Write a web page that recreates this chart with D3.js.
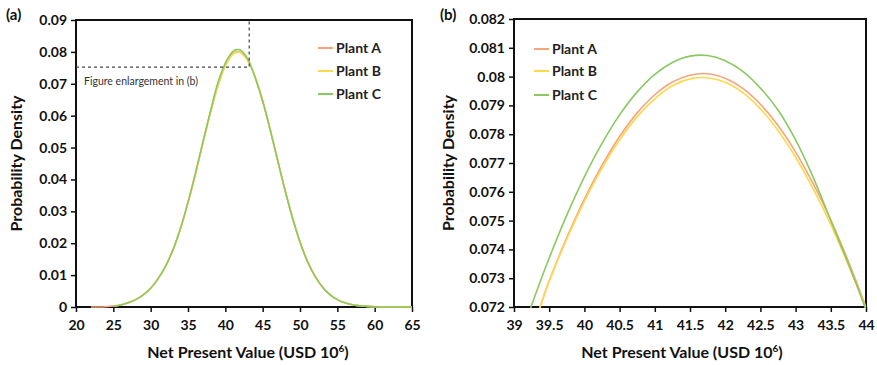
<!DOCTYPE html>
<html><head><meta charset="utf-8">
<script src="https://cdn.jsdelivr.net/npm/d3@7/dist/d3.min.js"></script>
<style>
body{margin:0;background:#fff;}
text{font-family:Lato,"Open Sans",sans-serif;}
</style></head>
<body><svg id="c" width="877" height="365"></svg>
<script>
// ---------- DATA ----------
const plants = ["Plant A", "Plant B", "Plant C"];
const colors = ["#F6A47C", "#FFD84E", "#8CC862"];

// Panel (a): NPV grid (USD 10^6), density values (null = not drawn)
const npvA = [20,21,22,23,24,25,26,27,28,29,30,31,32,33,34,35,36,37,38,39,40,41,41.5,42,43,44,45,46,47,48,49,50,51,52,53,54,55,56,57,58,59,60,61,62,63,64,65];
const densA_plantA = [null,null,0,0,0.0001,0.0003,0.0006,0.0013,0.0023,0.0038,0.0059,0.0089,0.0128,0.0180,0.0247,0.0328,0.0418,0.0515,0.0609,0.0693,0.0758,0.0794,0.0800,0.0799,0.0774,0.0720,0.0646,0.0557,0.0461,0.0366,0.0279,0.0204,0.0143,0.0097,0.0063,0.0039,0.0023,0.0013,0.0007,0.0004,0.0002,0.0001,0,0,0,0,0];
const densA_plantB = [null,null,null,null,null,0.0003,0.0006,0.0013,0.0023,0.0038,0.0059,0.0089,0.0128,0.0180,0.0247,0.0328,0.0418,0.0515,0.0609,0.0693,0.0757,0.0792,0.0799,0.0798,0.0772,0.0720,0.0645,0.0556,0.0460,0.0366,0.0279,0.0204,0.0143,0.0097,0.0063,0.0039,0.0023,0.0013,0.0007,0.0004,0.0002,0.0001,0,0,0,0,0];
const densA_plantC = [null,null,null,null,null,0.0003,0.0006,0.0013,0.0023,0.0038,0.0059,0.0089,0.0128,0.0180,0.0247,0.0328,0.0420,0.0518,0.0614,0.0703,0.0765,0.0801,0.0807,0.0806,0.0778,0.0719,0.0646,0.0557,0.0461,0.0366,0.0279,0.0204,0.0143,0.0097,0.0063,0.0039,0.0023,0.0013,0.0007,0.0004,0.0002,0.0001,0,0,0,0,0];

// Panel (b): enlargement near the peak
const npvB = [39,39.25,39.5,39.75,40,40.25,40.5,40.75,41,41.25,41.5,41.75,42,42.25,42.5,42.75,43,43.25,43.5,43.75,44,44.25];
const densB_plantA = [0.0704,0.07127,0.07291,0.07441,0.07575,0.07692,0.07792,0.07874,0.07937,0.07981,0.08005,0.08010,0.07994,0.07959,0.07904,0.07830,0.07738,0.07628,0.07502,0.07358,0.07200,0.07028];
const densB_plantB = [0.0704,0.07127,0.07290,0.07436,0.07567,0.07682,0.07780,0.07861,0.07923,0.07968,0.07992,0.07996,0.07980,0.07944,0.07888,0.07813,0.07720,0.07610,0.07486,0.07345,0.07195,0.07025];
const densB_plantC = [0.07028,0.07206,0.07370,0.07519,0.07652,0.07768,0.07867,0.07947,0.08008,0.08049,0.08071,0.08073,0.08055,0.08018,0.07960,0.07884,0.07780,0.07650,0.07500,0.07350,0.07190,0.07020];

const xTicksA = [20,25,30,35,40,45,50,55,60,65];
const yTicksA = [0,0.01,0.02,0.03,0.04,0.05,0.06,0.07,0.08,0.09];
const xTicksB = [39,39.5,40,40.5,41,41.5,42,42.5,43,43.5,44];
const yTicksB = [0.072,0.073,0.074,0.075,0.076,0.077,0.078,0.079,0.08,0.081,0.082];
const zoomBox = {x: 43.2, y: 0.0752};

// ---------- DRAW ----------
const svg = d3.select("#c");

function panel(opt){
  const g = svg.append("g");
  const x = d3.scaleLinear().domain(opt.xd).range([opt.l, opt.r]);
  const y = d3.scaleLinear().domain(opt.yd).range([opt.b, opt.t]);
  const clipId = "clip" + opt.id;
  svg.append("clipPath").attr("id", clipId).append("rect")
    .attr("x", opt.l).attr("y", opt.t - 2).attr("width", opt.r-opt.l).attr("height", opt.b-opt.t+3);

  const xa = g.append("g").attr("transform", `translate(0,${opt.b})`)
    .call(d3.axisBottom(x).tickValues(opt.xt).tickSize(5).tickSizeOuter(0).tickFormat(d=>d3.format("")(d)));
  const ya = g.append("g").attr("transform", `translate(${opt.l},0)`)
    .call(d3.axisLeft(y).tickValues(opt.yt).tickSize(5).tickSizeOuter(0).tickFormat(d=>d===0?"0":String(+d.toFixed(4))));
  [xa,ya].forEach(a=>{
    a.selectAll(".domain").remove();
    a.selectAll("line").attr("stroke","#111").attr("stroke-width",1.5);
    a.selectAll("text").attr("fill","#111").style("font-size","14px").style("font-weight","700");
  });
  xa.selectAll("text").attr("dy","1.05em");
  ya.selectAll("text").attr("x",-9);

  g.append("rect").attr("x",opt.l).attr("y",opt.t).attr("width",opt.r-opt.l).attr("height",opt.b-opt.t)
    .attr("fill","none").attr("stroke","#111").attr("stroke-width",2);

  const lines = g.append("g").attr("clip-path", `url(#${clipId})`);
  opt.series.forEach((s,i)=>{
    const pts = s.xs.map((v,k)=>[v, s.ys[k]]);
    lines.append("path")
      .attr("d", d3.line().defined(d=>d[1]!==null).x(d=>x(d[0])).y(d=>y(d[1]))
        .curve(d3.curveCatmullRom.alpha(0.5))(pts))
      .attr("fill","none").attr("stroke", colors[i]).attr("stroke-width", 1.6);
  });

  // titles
  const xt = g.append("text").attr("x",opt.xtx).attr("y",358).attr("text-anchor","middle")
    .style("font-size","16px").style("font-weight","700").attr("fill","#111");
  xt.append("tspan").text("Net Present Value (USD 10");
  xt.append("tspan").text("6").attr("dy",-6).style("font-size","10px");
  xt.append("tspan").text(")").attr("dy",6);
  g.append("text").attr("transform",`translate(${opt.ytx},${(opt.t+opt.b)/2}) rotate(-90)`)
    .attr("text-anchor","middle").attr("dy","0.35em").style("font-size","16px").style("font-weight","700").attr("fill","#111")
    .text("Probability Density");
  g.append("text").attr("x",opt.lab).attr("y",20).style("font-size","15px").style("font-weight","700").attr("fill","#111").text(opt.label);

  // legend
  plants.forEach((p,i)=>{
    const yy = opt.legY[i];
    g.append("line").attr("x1",opt.legX).attr("x2",opt.legX+15).attr("y1",yy).attr("y2",yy)
      .attr("stroke",colors[i]).attr("stroke-width",2);
    g.append("text").attr("x",opt.legX+18).attr("y",yy).attr("dy","0.35em")
      .style("font-size","14px").style("font-weight","700").attr("fill","#222").text(p);
  });
  return {g,x,y};
}

const A = panel({id:"a", l:76, r:412, t:20, b:307, xd:[20,65], yd:[0,0.09], xt:xTicksA, yt:yTicksA,
  ytx:16, xtx:248, lab:6, label:"(a)", legX:318, legY:[48,71,94],
  series:[{xs:npvA,ys:densA_plantA},{xs:npvA,ys:densA_plantB},{xs:npvA,ys:densA_plantC}]});

// enlargement marker
A.g.append("path")
  .attr("d", `M${A.x(20)},${A.y(zoomBox.y)}H${A.x(zoomBox.x)}V${A.y(0.09)}`)
  .attr("fill","none").attr("stroke","#444").attr("stroke-width",1.2).attr("stroke-dasharray","3,3");
A.g.append("text").attr("x",84).attr("y",81).attr("dy","0.35em").style("font-size","10.5px").attr("fill","#333")
  .text("Figure enlargement in (b)");

panel({id:"b", l:514, r:866, t:19, b:307, xd:[39,44], yd:[0.072,0.082], xt:xTicksB, yt:yTicksB,
  ytx:448, xtx:682, lab:440, label:"(b)", legX:534, legY:[49,71,95],
  series:[{xs:npvB,ys:densB_plantA},{xs:npvB,ys:densB_plantB},{xs:npvB,ys:densB_plantC}]});
</script></body></html>
